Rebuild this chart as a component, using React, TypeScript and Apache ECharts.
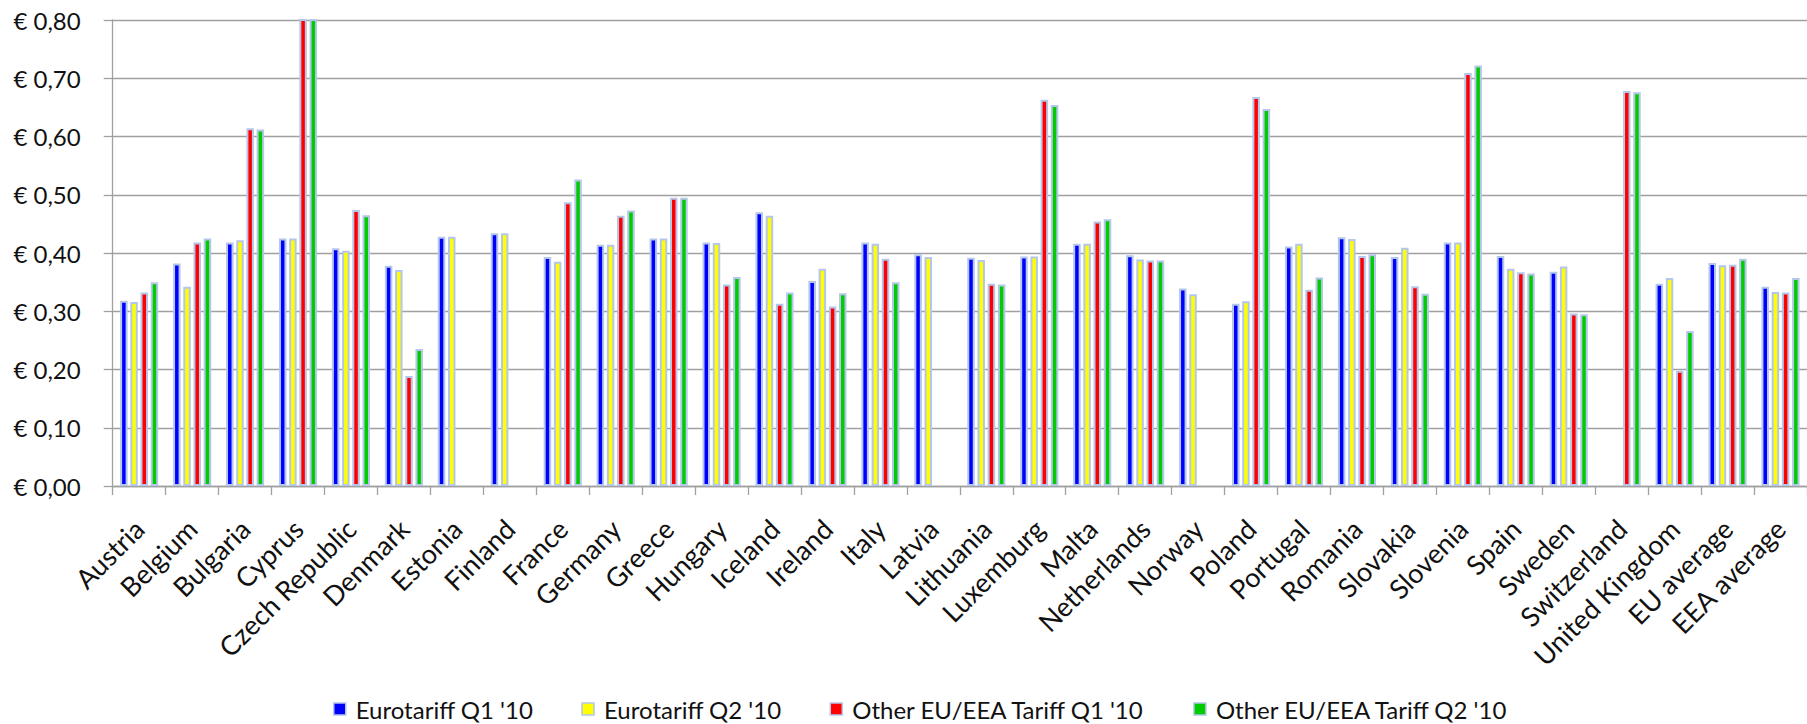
import React, { useEffect, useRef } from "react";
import * as echarts from "echarts";

const categories = [
  "Austria", "Belgium", "Bulgaria", "Cyprus", "Czech Republic", "Denmark", "Estonia", "Finland",
  "France", "Germany", "Greece", "Hungary", "Iceland", "Ireland", "Italy", "Latvia",
  "Lithuania", "Luxemburg", "Malta", "Netherlands", "Norway", "Poland", "Portugal", "Romania",
  "Slovakia", "Slovenia", "Spain", "Sweden", "Switzerland", "United Kingdom", "EU average", "EEA average",
];

const eurotariffQ1 = [
  0.318, 0.382, 0.418, 0.425, 0.408, 0.378, 0.428, 0.434,
  0.393, 0.414, 0.425, 0.418, 0.470, 0.352, 0.418, 0.398,
  0.392, 0.394, 0.416, 0.396, 0.339, 0.313, 0.411, 0.427,
  0.393, 0.418, 0.395, 0.368, null, 0.347, 0.383, 0.342,
];

const eurotariffQ2 = [
  0.316, 0.342, 0.422, 0.425, 0.404, 0.371, 0.428, 0.434,
  0.385, 0.414, 0.425, 0.417, 0.464, 0.373, 0.416, 0.393,
  0.388, 0.394, 0.416, 0.389, 0.329, 0.317, 0.416, 0.424,
  0.409, 0.418, 0.373, 0.377, null, 0.357, 0.379, 0.333,
];

const otherQ1 = [
  0.332, 0.418, 0.614, 0.85, 0.474, 0.189, null, null,
  0.487, 0.464, 0.495, 0.346, 0.313, 0.308, 0.390, null,
  0.347, 0.663, 0.454, 0.387, null, 0.668, 0.337, 0.395,
  0.343, 0.709, 0.367, 0.296, 0.678, 0.198, 0.380, 0.332,
];

const otherQ2 = [
  0.350, 0.425, 0.612, 0.85, 0.465, 0.235, null, null,
  0.526, 0.473, 0.495, 0.359, 0.332, 0.331, 0.350, null,
  0.346, 0.654, 0.458, 0.387, null, 0.647, 0.358, 0.398,
  0.330, 0.722, 0.365, 0.295, 0.676, 0.266, 0.390, 0.357,
];

const seriesNames = [
  "Eurotariff Q1 '10",
  "Eurotariff Q2 '10",
  "Other EU/EEA Tariff Q1 '10",
  "Other EU/EEA Tariff Q2 '10",
];
const seriesColors = ["#0000ff", "#ffff00", "#ff0000", "#00cc00"];

const FONT = "Lato, 'Open Sans', sans-serif";

export default function App() {
  const ref = useRef<HTMLDivElement>(null);

  useEffect(() => {
    if (!ref.current) return;
    const chart = echarts.init(ref.current, null, { renderer: "svg" });
    const dataSets = [eurotariffQ1, eurotariffQ2, otherQ1, otherQ2];
    chart.setOption({
      animation: false,
      backgroundColor: "#ffffff",
      grid: { left: 112.7, top: 20, width: 1705.6, height: 466, containLabel: false },
      legend: {
        left: 328,
        top: 692,
        itemWidth: 12,
        itemHeight: 12,
        itemGap: 48,
        icon: "rect",
        itemStyle: { borderColor: "#b4c6ea", borderWidth: 1.5 },
        textStyle: { fontFamily: FONT, fontSize: 24, color: "#111", padding: [0, 0, 0, 5] },
        data: seriesNames,
      },
      xAxis: {
        type: "category",
        data: categories,
        axisLine: { lineStyle: { color: "#a0a0a0", width: 1.3 } },
        axisTick: { show: true, length: 9, lineStyle: { color: "#a0a0a0", width: 1.3 } },
        axisLabel: {
          interval: 0,
          rotate: 45,
          margin: 38,
          fontFamily: FONT,
          fontSize: 27,
          color: "#111",
        },
      },
      yAxis: {
        type: "value",
        min: 0,
        max: 0.8,
        interval: 0.1,
        axisLine: { show: true, lineStyle: { color: "#a0a0a0", width: 1.3 } },
        axisTick: { show: true, length: 9, lineStyle: { color: "#a0a0a0", width: 1.3 } },
        splitLine: { show: true, lineStyle: { color: "#a0a0a0", width: 1.3 } },
        axisLabel: {
          margin: 32,
          fontFamily: FONT,
          fontSize: 24,
          color: "#111",
          formatter: (v: number) => "€ " + v.toFixed(2).replace(".", ","),
        },
      },
      series: dataSets.map((d, i) => ({
        name: seriesNames[i],
        type: "bar",
        data: d,
        barWidth: 7.5,
        barGap: "36%",
        clip: true,
        itemStyle: {
          color: seriesColors[i],
          borderColor: "#b4c6ea",
          borderWidth: 2,
        },
      })),
    });
    return () => chart.dispose();
  }, []);

  return (
    <div
      style={{
        position: "fixed",
        left: 0,
        top: 0,
        width: 1807,
        height: 724,
        overflow: "hidden",
        background: "#fff",
      }}
    >
      <div ref={ref} style={{ width: 1807, height: 724 }} />
    </div>
  );
}
